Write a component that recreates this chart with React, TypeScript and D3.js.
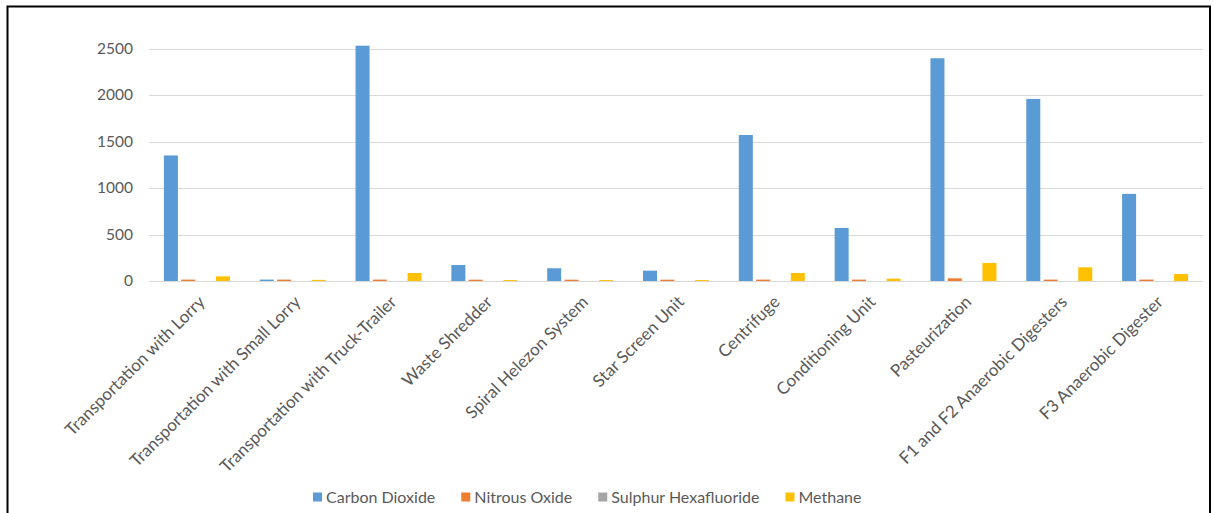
import React, { useEffect, useRef } from "react";
import * as d3 from "d3";

const categories = [
  "Transportation with Lorry",
  "Transportation with Small Lorry",
  "Transportation with Truck-Trailer",
  "Waste Shredder",
  "Spiral Helezon System",
  "Star Screen Unit",
  "Centrifuge",
  "Conditioning Unit",
  "Pasteurization",
  "F1 and F2 Anaerobic Digesters",
  "F3 Anaerobic Digester",
];

const seriesNames = ["Carbon Dioxide", "Nitrous Oxide", "Sulphur Hexafluoride", "Methane"];
const seriesColors = ["#5B9BD5", "#ED7D31", "#A5A5A5", "#FFC000"];

const carbonDioxide = [1350, 15, 2530, 172, 137, 111, 1570, 571, 2395, 1958, 937];
const nitrousOxide = [15, 15, 15, 14, 14, 14, 15, 15, 29, 15, 15];
const sulphurHexafluoride = [0, 0, 0, 0, 0, 0, 0, 0, 0, 0, 0];
const methane = [50, 12, 86, 10, 10, 10, 86, 25, 194, 147, 75];

const yTicks = [0, 500, 1000, 1500, 2000, 2500];

const W = 1214;
const H = 513;
const FONT = "Lato, Calibri, 'Open Sans', sans-serif";
const TEXT = "#595959";

export default function App() {
  const ref = useRef<SVGSVGElement | null>(null);

  useEffect(() => {
    const svg = d3.select(ref.current);
    svg.selectAll("*").remove();

    const values = [carbonDioxide, nitrousOxide, sulphurHexafluoride, methane];

    const plotLeft = 149;
    const plotRight = 1203;
    const y = d3.scaleLinear().domain([0, 2500]).range([281, 48.5]);
    const x0 = d3.scaleBand<string>().domain(categories).range([plotLeft, plotRight]).padding(0);
    const groupW = 69.33;
    const x1 = d3
      .scaleBand<string>()
      .domain(seriesNames)
      .range([0, groupW])
      .paddingInner(0.192)
      .paddingOuter(0.096);

    svg.append("rect").attr("width", W).attr("height", H).attr("fill", "#fff");

    // chart frame
    svg
      .append("rect")
      .attr("x", 7.5)
      .attr("y", 6.5)
      .attr("width", 1202.5)
      .attr("height", 520)
      .attr("fill", "none")
      .attr("stroke", "#000")
      .attr("stroke-width", 2);

    // gridlines
    svg
      .append("g")
      .selectAll("line")
      .data(yTicks)
      .join("line")
      .attr("x1", plotLeft)
      .attr("x2", plotRight)
      .attr("y1", (d) => Math.round(y(d)) + 0.5)
      .attr("y2", (d) => Math.round(y(d)) + 0.5)
      .attr("stroke", "#d9d9d9")
      .attr("stroke-width", 1);

    // y tick labels
    svg
      .append("g")
      .selectAll("text")
      .data(yTicks)
      .join("text")
      .attr("x", 133)
      .attr("y", (d) => y(d))
      .attr("dy", "0.35em")
      .attr("text-anchor", "end")
      .attr("font-family", FONT)
      .attr("font-size", 15.5)
      .attr("fill", TEXT)
      .text((d) => String(d));

    // bars
    const groups = svg
      .append("g")
      .selectAll("g")
      .data(categories)
      .join("g")
      .attr("transform", (c) => `translate(${x0(c)! + (x0.bandwidth() - groupW) / 2},0)`);

    groups
      .selectAll("rect")
      .data((c) => {
        const i = categories.indexOf(c);
        return seriesNames.map((s, k) => ({ s, k, v: values[k][i] }));
      })
      .join("rect")
      .attr("x", (d) => x1(d.s)!)
      .attr("width", x1.bandwidth())
      .attr("y", (d) => y(d.v))
      .attr("height", (d) => y(0) - y(d.v))
      .attr("fill", (d) => seriesColors[d.k]);

    // category labels
    svg
      .append("g")
      .selectAll("text")
      .data(categories)
      .join("text")
      .attr(
        "transform",
        (c) => `translate(${x0(c)! + x0.bandwidth() / 2 + 9},${303}) rotate(-45)`
      )
      .attr("text-anchor", "end")
      .attr("font-family", FONT)
      .attr("font-size", 17)
      .attr("fill", TEXT)
      .text((c) => c);

    // legend
    const legend = svg.append("g").attr("transform", "translate(313,497)");
    let cx = 0;
    seriesNames.forEach((name, k) => {
      legend
        .append("rect")
        .attr("x", cx)
        .attr("y", -4.5)
        .attr("width", 9)
        .attr("height", 9)
        .attr("fill", seriesColors[k]);
      const t = legend
        .append("text")
        .attr("x", cx + 13)
        .attr("y", 0)
        .attr("dy", "0.35em")
        .attr("font-family", FONT)
        .attr("font-size", 16)
        .attr("fill", TEXT)
        .text(name);
      const w = (t.node() as SVGTextElement).getComputedTextLength();
      cx += 13 + w + 26;
    });
  }, []);

  return (
    <svg
      ref={ref}
      width={W}
      height={H}
      style={{ position: "fixed", left: 0, top: 0, display: "block" }}
    />
  );
}
